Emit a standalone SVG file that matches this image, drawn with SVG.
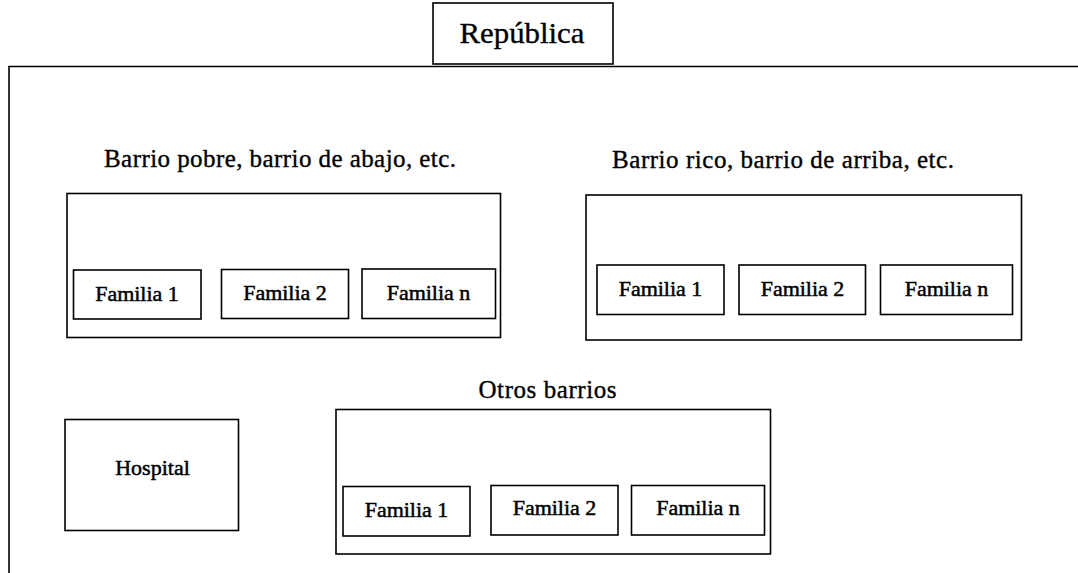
<svg xmlns="http://www.w3.org/2000/svg" width="1078" height="573" viewBox="0 0 1078 573">
<style>
.box{fill:#fff;stroke:#000;stroke-width:1.6}
.t{font-family:"Liberation Serif","Times New Roman",serif;fill:#000;text-anchor:middle;stroke:#000}
.fam{font-size:22px;stroke-width:0.5}
.ttl{font-size:25px;stroke-width:0.35}
</style>
<rect width="1078" height="573" fill="#fff"/>
<g id="republica-frame">
<path class="box" d="M9,600 L9,66.5 L1090,66.5" fill="none"/>
</g>
<g id="republica">
<rect class="box" x="433" y="3" width="180" height="61"/>
<text class="t" x="522" y="42.5" font-size="30" stroke-width="0.35" textLength="125" lengthAdjust="spacingAndGlyphs">República</text>
</g>
<g id="barrio-pobre">
<text class="t ttl" x="280" y="167" textLength="352" lengthAdjust="spacing">Barrio pobre, barrio de abajo, etc.</text>
<rect class="box" x="67" y="193.5" width="433.5" height="144"/>
<g id="pobre-f1"><rect class="box" x="73.5" y="270" width="127.5" height="49"/><text class="t fam" x="137" y="300.5">Familia 1</text></g>
<g id="pobre-f2"><rect class="box" x="221.5" y="269.5" width="127" height="49"/><text class="t fam" x="285" y="299.5">Familia 2</text></g>
<g id="pobre-fn"><rect class="box" x="362" y="269" width="133.5" height="49.5"/><text class="t fam" x="428.5" y="299.5">Familia n</text></g>
</g>
<g id="barrio-rico">
<text class="t ttl" x="783" y="167.5" textLength="342" lengthAdjust="spacing">Barrio rico, barrio de arriba, etc.</text>
<rect class="box" x="586" y="195" width="435.5" height="145"/>
<g id="rico-f1"><rect class="box" x="597" y="265" width="127" height="49.5"/><text class="t fam" x="660.5" y="295.5">Familia 1</text></g>
<g id="rico-f2"><rect class="box" x="739" y="265" width="126.5" height="49.5"/><text class="t fam" x="802.5" y="295.5">Familia 2</text></g>
<g id="rico-fn"><rect class="box" x="880.5" y="265" width="132" height="49.5"/><text class="t fam" x="946.5" y="295.5">Familia n</text></g>
</g>
<g id="hospital">
<rect class="box" x="65" y="419.5" width="173.5" height="111"/>
<text class="t fam" x="152.5" y="475">Hospital</text>
</g>
<g id="otros-barrios">
<text class="t ttl" x="547.5" y="398" textLength="138" lengthAdjust="spacing">Otros barrios</text>
<rect class="box" x="336" y="409.5" width="434.5" height="144.5"/>
<g id="otros-f1"><rect class="box" x="343" y="486.5" width="127" height="49.5"/><text class="t fam" x="406.5" y="516.5">Familia 1</text></g>
<g id="otros-f2"><rect class="box" x="491" y="485.5" width="127" height="49.5"/><text class="t fam" x="554.5" y="515">Familia 2</text></g>
<g id="otros-fn"><rect class="box" x="631.5" y="485.5" width="133" height="49.5"/><text class="t fam" x="698" y="515">Familia n</text></g>
</g>
<g id="connectors"></g>
</svg>
